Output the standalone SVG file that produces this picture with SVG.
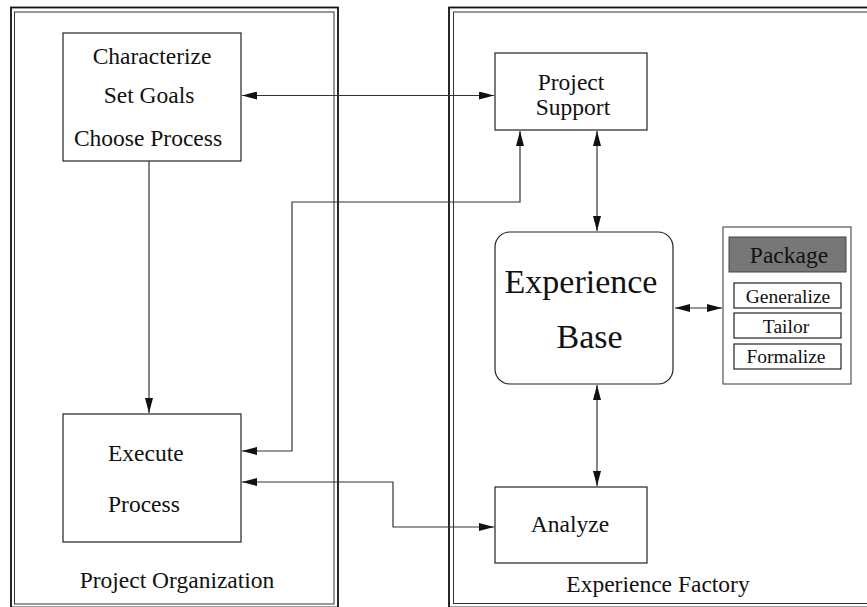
<svg xmlns="http://www.w3.org/2000/svg" width="867" height="607" viewBox="0 0 867 607">
  <style>
    text { font-family: "Liberation Serif", "Times New Roman", serif; fill: #111; }
    .box { fill: #fff; stroke: #222; stroke-width: 1.2; }
    .frame-out { fill: none; stroke: #111; stroke-width: 1.8; }
    .frame-in { fill: none; stroke: #333; stroke-width: 1; }
    .conn { fill: none; stroke: #333; stroke-width: 1.2; }
    .t23 { font-size: 23.5px; }
    .t19 { font-size: 19.5px; }
    .t34 { font-size: 34px; }
  </style>
  <defs>
    <marker id="arrow" viewBox="0 0 15 8" refX="15" refY="4" markerWidth="15" markerHeight="8" markerUnits="userSpaceOnUse" orient="auto-start-reverse">
      <path d="M0,0 L15,4 L0,8 z" fill="#111"/>
    </marker>
  </defs>
  <rect width="867" height="607" fill="#fff"/>

  <!-- Project Organization frame -->
  <g id="project-organization">
    <rect class="frame-out" x="11" y="7.5" width="327" height="600"/>
    <rect class="frame-in" x="14.5" y="12" width="319.5" height="592"/>
    <text class="t23" x="177" y="588" text-anchor="middle">Project Organization</text>
  </g>

  <!-- Experience Factory frame -->
  <g id="experience-factory">
    <rect class="frame-out" x="449" y="7.5" width="430" height="600"/>
    <rect class="frame-in" x="453.5" y="12" width="430" height="591.5"/>
    <text class="t23" x="658" y="592" text-anchor="middle">Experience Factory</text>
  </g>

  <g id="characterize">
    <rect class="box" x="63" y="33" width="178" height="128"/>
    <text class="t23" x="152" y="64" text-anchor="middle">Characterize</text>
    <text class="t23" x="149" y="103" text-anchor="middle">Set Goals</text>
    <text class="t23" x="148" y="146" text-anchor="middle">Choose Process</text>
  </g>

  <g id="execute-process">
    <rect class="box" x="63" y="414" width="178" height="128"/>
    <text class="t23" x="108" y="461">Execute</text>
    <text class="t23" x="108" y="512">Process</text>
  </g>

  <g id="project-support">
    <rect class="box" x="495" y="53" width="152" height="77"/>
    <text class="t23" x="571" y="90" text-anchor="middle">Project</text>
    <text class="t23" x="573" y="115" text-anchor="middle">Support</text>
  </g>

  <g id="experience-base">
    <rect class="box" x="495" y="232" width="178" height="152" rx="15" ry="15"/>
    <text class="t34" x="581" y="293" text-anchor="middle">Experience</text>
    <text class="t34" x="589.5" y="348" text-anchor="middle">Base</text>
  </g>

  <g id="package">
    <rect x="723" y="227" width="128" height="157" fill="#fff" stroke="#555" stroke-width="1.2"/>
    <rect x="729" y="237" width="117" height="35" fill="#777" stroke="#444" stroke-width="1"/>
    <text class="t23" x="789" y="263" text-anchor="middle">Package</text>
    <rect class="box" x="734" y="283" width="107" height="25"/>
    <text class="t19" x="788" y="303" text-anchor="middle">Generalize</text>
    <rect class="box" x="734" y="313" width="107" height="25"/>
    <text class="t19" x="786" y="333" text-anchor="middle">Tailor</text>
    <rect class="box" x="734" y="344" width="107" height="25"/>
    <text class="t19" x="786" y="363" text-anchor="middle">Formalize</text>
  </g>

  <g id="analyze">
    <rect class="box" x="495" y="487" width="152" height="76"/>
    <text class="t23" x="570" y="532" text-anchor="middle">Analyze</text>
  </g>

  <!-- connectors -->
  <g id="connectors">
    <path class="conn" d="M242,95.5 L494,95.5" marker-start="url(#arrow)" marker-end="url(#arrow)"/>
    <path class="conn" d="M149,161 L149,413" marker-end="url(#arrow)"/>
    <path class="conn" d="M242,451 L292,451 L292,202 L520,202 L520,131" marker-start="url(#arrow)" marker-end="url(#arrow)"/>
    <path class="conn" d="M597,131 L597,231" marker-start="url(#arrow)" marker-end="url(#arrow)"/>
    <path class="conn" d="M675,308 L722,308" marker-start="url(#arrow)" marker-end="url(#arrow)"/>
    <path class="conn" d="M597,385 L597,486" marker-start="url(#arrow)" marker-end="url(#arrow)"/>
    <path class="conn" d="M242,482 L393,482 L393,527 L494,527" marker-start="url(#arrow)" marker-end="url(#arrow)"/>
  </g>
</svg>
